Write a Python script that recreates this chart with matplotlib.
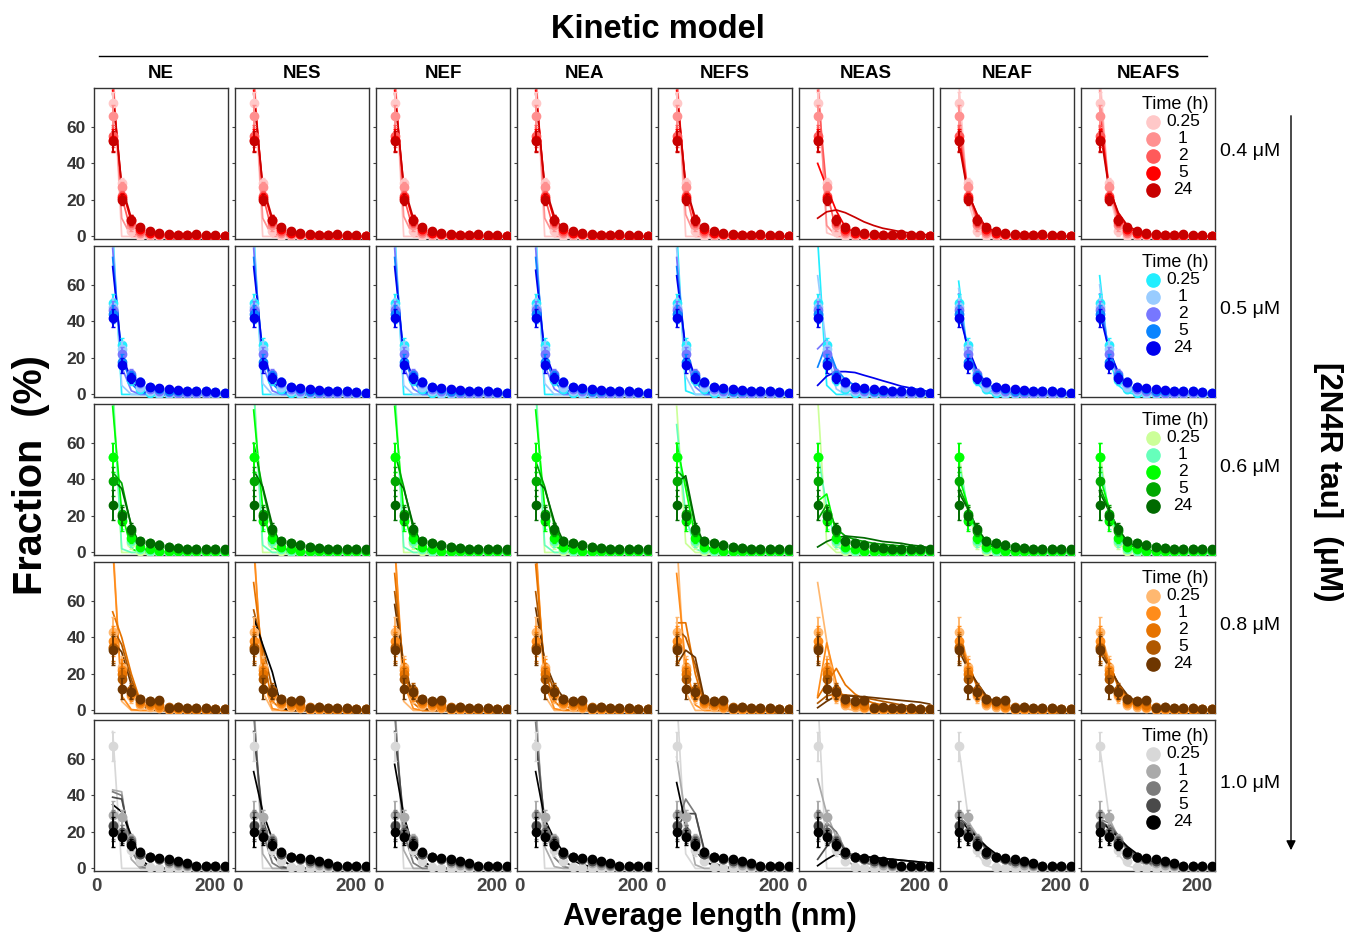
import matplotlib.pyplot as plt
import matplotlib.patches as mpatches
from matplotlib.lines import Line2D

plt.rcParams['font.family'] = ['Liberation Sans', 'DejaVu Sans']

# //--------------------------< data >--------------------------\\

models = ['NE', 'NES', 'NEF', 'NEA', 'NEFS', 'NEAS', 'NEAF', 'NEAFS']
concs = ['0.4 μM', '0.5 μM', '0.6 μM', '0.8 μM', '1.0 μM']
times = ['0.25', '1', '2', '5', '24']
length = [28, 44, 61, 77, 94, 110, 127, 143, 160, 176, 193, 209, 226]

colors_red = ['#FFC8C8', '#FF9090', '#FF5A5A', '#FF0000', '#C80000']
colors_blue = ['#22EEFF', '#99CCFF', '#7777FF', '#0A84FF', '#0000EE']
colors_green = ['#CCFF99', '#66FFBB', '#00FF00', '#00A800', '#006A00']
colors_orange = ['#FFB870', '#FF8C1A', '#E67300', '#B05800', '#6E3600']
colors_gray = ['#D8D8D8', '#AAAAAA', '#7C7C7C', '#4A4A4A', '#000000']

# experimental fractions (%) per time point
exp_red = [[73, 29, 3, 0, 0, 0, 0, 0, 0, 0, 0, 0, 0],
           [66, 27, 6, 2, 1, 1, 0.5, 0.5, 0.5, 0.5, 0.3, 0.3, 0.2],
           [55, 22, 8, 3, 2, 1.5, 1, 0.5, 0.5, 1, 0.5, 0.5, 0.2],
           [53, 21, 9, 4, 2, 1.5, 1, 1, 1, 1, 0.5, 0.5, 0.2],
           [52, 20, 9, 5, 3, 2, 1.5, 1, 1, 1.5, 1, 1, 0.5]]
exp_blue = [[50, 27, 8, 3, 1, 0.5, 0, 0, 0, 0, 0, 0, 0],
            [48, 25, 9, 4, 2, 1, 1, 0.5, 0.5, 0.5, 0.5, 0.5, 0.3],
            [46, 22, 11, 6, 3, 2, 1.5, 1, 1, 1, 1, 1, 0.5],
            [44, 18, 10, 7, 4, 3, 2, 2, 2, 2, 2, 1.5, 1],
            [42, 16, 9, 7, 4, 3.5, 3, 2.5, 2, 2, 2, 1.5, 1]]
exp_green = [[52, 20, 5, 1, 0.5, 0, 0, 0, 0, 0, 0, 0, 0],
             [52, 18, 6, 2, 1, 0.5, 0.5, 0.5, 0.5, 0.5, 0.5, 0.5, 0.5],
             [52, 17, 8, 3, 2, 1, 1, 1, 1, 1, 1, 1, 1],
             [39, 21, 12, 6, 5, 4, 3, 2.5, 2, 2, 2, 2, 1.5],
             [26, 20, 13, 6, 5, 4, 3, 2.5, 2, 2, 2, 2, 2]]
exp_orange = [[43, 24, 8, 3, 2, 1.5, 0.5, 0.5, 0, 0, 0, 0, 0],
              [38, 22, 9, 4, 3, 2, 1, 1, 1, 0.5, 0.5, 0.5, 0.5],
              [35, 20, 10, 5, 4, 3, 1.5, 1.5, 1, 1, 1, 1, 1],
              [34, 17, 11, 6, 5, 5, 2, 2, 1.5, 1.5, 1.5, 1, 1],
              [33, 12, 10, 6, 5, 5.5, 1.5, 2, 1.2, 1.5, 1.5, 1, 1]]
exp_gray = [[67, 28, 10, 4, 1, 0.5, 0, 0, 0, 0, 0, 0, 0],
            [29, 28, 16, 8, 6, 5, 3, 2, 1.5, 1, 1, 1, 0.5],
            [24, 20, 15, 8, 6, 5, 4, 3, 2, 1, 1, 1, 1],
            [23, 18, 14, 8, 6, 5, 4, 3.5, 2.5, 1.5, 1.5, 1.5, 1],
            [20, 17, 13, 9, 6, 5.5, 5, 4, 3, 1.5, 1.5, 1.5, 1.5]]

err_red = [6, 3, 3, 2, 1.5, 1, 1, 0.5, 0.5, 0.5, 0.5, 0.5, 0.3]
err_blue = [5, 4, 3, 2, 1.5, 1, 1, 1, 1, 1.5, 1, 1, 0.5]
err_green = [8, 5, 3, 2, 2, 2, 1.5, 1, 1, 1, 1, 1, 1]
err_orange = [8, 6, 4, 2, 2, 2, 1, 1, 1, 1, 1, 1, 0.5]
err_gray = [8, 4, 3, 2, 2, 1.5, 1.5, 1, 1, 1, 1, 1, 0.5]

# model curves (one list per time point, trailing values are zero)
ne_red = [[95, 0], [90, 10, 0], [85, 22, 2, 0], [80, 27, 8, 1, 0], [78, 28, 10, 2, 0]]
nes_red = [[95, 0], [90, 10, 0], [85, 23, 2, 0], [80, 27, 8, 1, 0], [78, 28, 10, 2, 0]]
nef_red = [[95, 0], [90, 11, 0], [85, 22, 3, 0], [80, 27, 8, 1, 0], [78, 28, 10, 2, 0]]
nea_red = [[95, 0], [90, 10, 0], [85, 22, 3, 0], [80, 27, 9, 1.5, 0], [78, 28, 11, 3, 0.5, 0]]
nefs_red = [[95, 0], [90, 12, 0], [85, 24, 3, 0], [80, 28, 8, 1, 0], [78, 28, 10, 2, 0]]
neas_red = [[95, 2, 0], [88, 6, 0], [80, 25, 3, 0.5, 0],
            [40, 27, 14, 5, 2, 1, 0.5, 0.3, 0],
            [10, 13.5, 14.5, 13, 10.5, 8, 6, 4.5, 3.5, 2.5, 1.8, 1.2, 0.8]]
neaf_red = [[85, 20, 3, 0], [70, 25, 6, 1, 0], [60, 26, 9, 3, 1, 0.3],
            [55, 25, 11, 4, 2, 1, 0.5], [52, 24, 12, 5, 2.5, 1, 0.5, 0.3]]
neafs_red = [[90, 25, 4, 0.5, 0], [80, 27, 7, 2, 0.5, 0], [70, 28, 10, 3, 1, 0.3, 0],
             [65, 28, 12, 5, 2, 1, 0.5, 0.2], [60, 27, 13, 6, 3, 1.5, 0.7, 0.3]]

ne_blue = [[90, 0], [85, 5, 0], [80, 15, 2, 0], [75, 20, 6, 1, 0], [70, 22, 8, 2, 0.5, 0]]
nes_blue = [[90, 0], [85, 6, 0], [80, 16, 2, 0], [75, 21, 6, 1, 0], [70, 23, 8, 2, 0.5, 0]]
nef_blue = [[90, 0], [85, 5, 0], [80, 15, 3, 0], [75, 20, 7, 1, 0], [70, 22, 9, 2, 0.5, 0]]
nea_blue = [[90, 0], [85, 6, 0], [80, 16, 3, 0], [75, 21, 7, 1.5, 0], [68, 23, 10, 3, 1, 0]]
nefs_blue = [[90, 2, 0], [80, 10, 0], [75, 20, 4, 0], [70, 24, 7, 1, 0], [65, 25, 9, 2, 0.5, 0]]
neas_blue = [[85, 5, 0], [65, 25, 3, 0], [25, 30, 10, 3, 1, 0.3, 0],
             [15, 28, 14, 8, 5, 3, 2, 1.5, 1, 0.8, 0.5, 0.3, 0.2],
             [5, 10, 12.5, 12.5, 12, 10.5, 9, 7.5, 6, 4.5, 3.5, 2.5, 1.5]]
neaf_blue = [[62, 22, 6, 1, 0], [58, 22, 7, 2, 0.5, 0], [55, 23, 9, 3, 1, 0.5],
             [50, 25, 11, 5, 2, 1, 0.5], [45, 26, 13, 6, 3, 1.5, 0.8, 0.4, 0.2]]
neafs_blue = [[65, 20, 5, 1, 0], [60, 22, 7, 2, 0.5], [55, 24, 9, 3, 1, 0.3],
              [50, 25, 11, 4, 2, 1, 0.4], [45, 25, 12, 5, 2.5, 1.2, 0.6, 0.3]]

ne_green = [[95, 0], [90, 2, 0], [80, 22, 2, 0], [44, 38, 14, 2, 0], [40, 35, 15, 3, 0.5, 0]]
nes_green = [[95, 0], [90, 4, 0], [78, 24, 3, 0], [60, 35, 12, 2, 0], [45, 36, 15, 3, 0.5, 0]]
nef_green = [[95, 0], [90, 3, 0], [80, 22, 3, 0], [55, 36, 13, 2, 0], [42, 35, 15, 3, 0.5, 0]]
nea_green = [[95, 0], [90, 4, 0], [78, 24, 4, 0.5, 0], [50, 36, 15, 4, 0.5, 0], [40, 35, 17, 6, 1.5, 0.3, 0]]
nefs_green = [[80, 5, 0], [70, 20, 2, 0], [60, 35, 8, 1, 0], [45, 40, 14, 3, 0.5, 0], [38, 42, 16, 4, 1, 0]]
neas_green = [[85, 5, 0], [55, 25, 4, 0], [28, 32, 10, 3, 1, 0],
              [18, 26, 13, 9, 7, 6, 5, 4.5, 4, 3.5, 3, 2.5, 2],
              [3, 6, 8, 9, 8.5, 8, 7, 6, 5.5, 5, 4, 3.5, 2.5]]
neaf_green = [[55, 22, 6, 1, 0], [50, 24, 8, 2, 0.5, 0], [42, 26, 10, 3, 1, 0.3],
              [36, 25, 12, 5, 2, 1, 0.5], [33, 24, 13, 6, 3, 1.5, 0.7, 0.3]]
neafs_green = [[56, 21, 6, 1, 0], [50, 23, 8, 2, 0.5, 0], [42, 25, 10, 3, 1, 0.3],
               [36, 24, 12, 5, 2, 1, 0.5], [33, 23, 13, 6, 3, 1.5, 0.7, 0.3]]

ne_orange = [[95, 5, 0], [90, 8, 0.5, 0], [54, 40, 20, 5, 0.5, 0], [45, 36, 17, 4, 0.5, 0], [38, 32, 14, 3, 0.3, 0]]
nes_orange = [[95, 10, 0], [90, 18, 1, 0], [70, 30, 5, 0.5, 0], [55, 35, 12, 1, 0], [51, 36, 21, 1.5, 0]]
nef_orange = [[95, 5, 0], [90, 15, 1, 0], [75, 22, 4, 0], [65, 25, 7, 1, 0], [58, 24, 8, 1.5, 0]]
nea_orange = [[95, 8, 0], [90, 15, 1, 0], [80, 22, 5, 0.5, 0], [65, 26, 10, 3, 0.5, 0], [56, 27, 14, 7, 3, 1, 0.3, 0]]
nefs_orange = [[95, 10, 0], [75, 25, 3, 0], [48, 48, 20, 3, 0], [45, 40, 25, 5, 0.5, 0], [25, 33, 29, 6, 1, 0]]
neas_orange = [[70, 38, 9, 1, 0], [8, 37, 15, 5, 2, 1, 0.5, 0.3, 0],
               [7, 15, 23, 14, 9, 6, 4, 3, 2, 1.5, 1, 0.8, 0.5],
               [4, 8, 9, 8.5, 8, 7, 6, 5, 4, 3, 2, 1.5, 1],
               [1.5, 5, 8, 8, 7.8, 7.5, 7, 6.5, 6, 5.5, 5, 4.5, 3.5]]
neaf_orange = [[45, 27, 12, 5, 2, 1, 0.5, 0], [42, 26, 13, 6, 2.5, 1, 0.5, 0.2],
               [40, 25, 14, 7, 3, 1.5, 0.7, 0.3], [37, 24, 14, 7.5, 3.5, 1.5, 0.8, 0.4],
               [33, 23, 15, 8, 4, 2, 1, 0.5, 0.2]]
neafs_orange = [[44, 28, 12, 5, 2, 0.8, 0.3, 0], [41, 27, 13, 6, 2.5, 1, 0.4],
                [38, 26, 14, 7, 3, 1.3, 0.6, 0.3], [35, 25, 14, 8, 4, 2, 1, 0.5],
                [32, 24, 15, 8.5, 4.5, 2.2, 1, 0.5, 0.2]]

ne_gray = [[75, 0], [43, 42, 5, 0], [42, 40, 10, 1, 0], [39, 38, 15, 3, 0.5, 0], [35, 31, 18, 5, 1, 0]]
nes_gray = [[95, 0], [90, 8, 0], [85, 20, 3, 0], [75, 28, 8, 1, 0], [53, 31, 16, 5, 1.5, 0.3, 0]]
nef_gray = [[95, 0], [90, 10, 0], [85, 20, 3, 0], [75, 27, 8, 2, 0], [57, 29, 11, 4, 1, 0]]
nea_gray = [[95, 0], [90, 12, 1, 0], [80, 22, 6, 1, 0], [70, 26, 12, 4, 1, 0.3], [53, 27, 16, 9, 4.5, 2, 1, 0.4, 0]]
nefs_gray = [[95, 8, 0], [61, 28, 2, 0], [24, 38, 30, 9, 2, 0.5, 0], [22, 30, 30, 10, 3, 1, 0.3], [47, 24, 10, 4, 1.5, 0.5, 0]]
neas_gray = [[95, 0], [49, 30, 17, 5, 1, 0.3, 0],
             [15, 25, 20, 10, 5, 3, 2, 1.5, 1, 0.8, 0.5, 0.3, 0.2],
             [5, 12, 18, 9, 7, 6.5, 6, 5.5, 5, 4.5, 4, 3.5, 3],
             [1.5, 5, 8, 7.5, 7, 6.5, 6, 5.5, 5, 4.5, 4, 3.5, 3]]
neaf_gray = [[67, 30, 8, 1.5, 0], [30, 26, 18, 10, 5, 2.5, 1, 0.5, 0.2],
             [28, 24, 17, 10, 6, 3, 1.5, 0.8, 0.3], [27, 23, 17, 11, 7, 4, 2, 1, 0.5],
             [27, 22, 17, 12, 8, 5, 3, 2, 1, 0.5, 0.3, 0.2, 0.1]]
neafs_gray = [[67, 30, 8, 1.5, 0], [30, 28, 17, 9, 4, 2, 1, 0.4],
              [27, 25, 18, 10, 5, 3, 1.5, 0.7, 0.3], [26, 23, 18, 11, 7, 4, 2, 1, 0.5, 0.2],
              [26, 22, 17, 12, 8, 5, 3, 2, 1, 0.5, 0.3, 0.2, 0.1]]

# //--------------------------< collect >--------------------------\\

row_colors = [colors_red, colors_blue, colors_green, colors_orange, colors_gray]
row_exp = [exp_red, exp_blue, exp_green, exp_orange, exp_gray]
row_err = [err_red, err_blue, err_green, err_orange, err_gray]
model_curves = {
    'NE': [ne_red, ne_blue, ne_green, ne_orange, ne_gray],
    'NES': [nes_red, nes_blue, nes_green, nes_orange, nes_gray],
    'NEF': [nef_red, nef_blue, nef_green, nef_orange, nef_gray],
    'NEA': [nea_red, nea_blue, nea_green, nea_orange, nea_gray],
    'NEFS': [nefs_red, nefs_blue, nefs_green, nefs_orange, nefs_gray],
    'NEAS': [neas_red, neas_blue, neas_green, neas_orange, neas_gray],
    'NEAF': [neaf_red, neaf_blue, neaf_green, neaf_orange, neaf_gray],
    'NEAFS': [neafs_red, neafs_blue, neafs_green, neafs_orange, neafs_gray],
}
# the 24 h NES curve at 0.8 uM is drawn in black in the original
line_override = {('NES', 3, 4): 'black'}


def pad(curve):
    return list(curve) + [0] * (len(length) - len(curve))


# //--------------------------< figure >--------------------------\\

W, H = 1347, 934
fig = plt.figure(figsize=(W / 100, H / 100), dpi=100)

left0, dx, pw = 94, 141, 134
top0, dy, ph = 88, 158, 151

for r in range(5):
    for c, m in enumerate(models):
        x0 = left0 + dx * c
        y0 = top0 + dy * r
        ax = fig.add_axes([x0 / W, 1 - (y0 + ph) / H, pw / W, ph / H])
        cols = row_colors[r]
        for t in range(5):
            lc = line_override.get((m, r, t), cols[t])
            ax.plot(length, pad(model_curves[m][r][t]), color=lc, lw=1.25, zorder=2)
        for t in range(5):
            ax.errorbar(length, row_exp[r][t], yerr=row_err[r], fmt='o', color=cols[t],
                        ms=6, elinewidth=1.4, capsize=1.5, capthick=1, zorder=3 + t)
        ax.set_xlim(-5, 232)
        ax.set_ylim(-1.4, 81.3)
        ax.set_yticks([0, 20, 40, 60])
        ax.set_xticks([0, 200])
        ax.tick_params(axis='y', length=2.5, width=0.8, color='#444444')
        ax.tick_params(axis='x', length=0, pad=5)
        for s in ax.spines.values():
            s.set_color('#333333')
            s.set_linewidth(1.0)
        if c == 0:
            ax.set_yticklabels(['0', '20', '40', '60'], fontsize=12.5, fontweight='bold', color='#333333')
        else:
            ax.set_yticklabels([])
        if r == 4:
            ax.set_xticklabels(['0', '200'], fontsize=13.5, fontweight='bold', color='#444444')
        else:
            ax.set_xticklabels([])
        if r == 0:
            ax.set_title(m, fontsize=13.5, fontweight='bold', pad=7)
        if c == 7:
            # legend drawn by hand so labels sit centred like the original
            ax.text(0.70, 0.89, 'Time (h)', transform=ax.transAxes, ha='center', va='center', fontsize=13)
            for t in range(5):
                yy = 0.778 - 0.113 * t
                ax.plot([0.54], [yy], 'o', ms=9.5, color=cols[t], transform=ax.transAxes, clip_on=False, zorder=10)
                ax.text(0.76, yy, times[t], transform=ax.transAxes, ha='center', va='center', fontsize=12.5)
            fig.text(1220 / W, 1 - (y0 + 63) / H, concs[r], fontsize=14, ha='left', va='center')

# //--------------------------< labels >--------------------------\\

fig.text(658 / W, 1 - 30 / H, 'Kinetic model', fontsize=23.5, fontweight='bold', ha='center', va='center')
fig.add_artist(Line2D([99 / W, 1207 / W], [1 - 56 / H, 1 - 56 / H], color='black', lw=1.0))
fig.text(31 / W, 1 - 475 / H, 'Fraction  (%)', fontsize=28.5, fontweight='bold', rotation=90,
         ha='center', va='center')
fig.text(710 / W, 1 - 917 / H, 'Average length (nm)', fontsize=22, fontweight='bold', ha='center', va='center')
fig.text(1328 / W, 1 - 482 / H, '[2N4R tau]  (μM)', fontsize=22.5, fontweight='bold', rotation=-90,
         ha='center', va='center')
fig.add_artist(mpatches.FancyArrowPatch((1291 / W, 1 - 113 / H), (1291 / W, 1 - 853 / H),
                                        transform=fig.transFigure, arrowstyle='-|>', mutation_scale=14,
                                        lw=1.0, color='black'))

fig.savefig('out.png', dpi=100)
